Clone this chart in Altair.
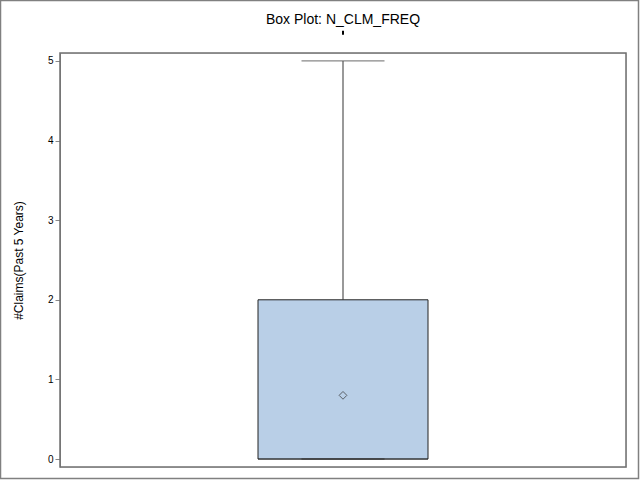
import altair as alt
import pandas as pd

# ---- data ----
variable = ["N_CLM_FREQ"]
q1 = [0.0]
median = [0.0]
q3 = [2.0]
whisker_low = [0.0]
whisker_high = [5.0]
mean = [0.8]
y_ticks = [0, 1, 2, 3, 4, 5]
title_text = "Box Plot: N_CLM_FREQ"
marker_lo = [5.33]
marker_hi = [5.38]

df = pd.DataFrame({
    "var": variable, "q1": q1, "median": median, "q3": q3,
    "lo": whisker_low, "hi": whisker_high, "mean": mean,
    "mlo": marker_lo, "mhi": marker_hi,
})

W, H = 566, 414
yscale = alt.Scale(domain=[-0.1, 5.1], nice=False, zero=False)
xenc = alt.X("var:N", axis=None, scale=alt.Scale(paddingInner=0, paddingOuter=0))
ytitle = "#Claims(Past 5 Years)"

base = alt.Chart(df)

whisker = base.mark_rule(color="#555555", strokeWidth=1.2).encode(
    x=xenc,
    y=alt.Y("q3:Q", scale=yscale,
            axis=alt.Axis(values=y_ticks, title=ytitle, grid=False, format="d",
                          titleFontWeight="normal", titleFont="Liberation Sans",
                          titleFontSize=12, titlePadding=22)),
    y2="hi:Q",
)
caps_hi = base.mark_tick(color="#555555", size=83, thickness=1.2).encode(
    x=xenc, y=alt.Y("hi:Q", scale=yscale))
box = base.mark_bar(size=170, color="#B9CFE7", stroke="#222222", strokeWidth=1).encode(
    x=xenc, y=alt.Y("q1:Q", scale=yscale), y2="q3:Q")
med = base.mark_tick(color="#222222", size=170, thickness=1).encode(
    x=xenc, y=alt.Y("median:Q", scale=yscale))
caps_lo = base.mark_tick(color="#333333", size=83, thickness=1.5).encode(
    x=xenc, y=alt.Y("lo:Q", scale=yscale))
mean_pt = base.mark_point(shape="diamond", size=60, filled=False, color="#333333",
                          strokeWidth=1).encode(
    x=xenc, y=alt.Y("mean:Q", scale=yscale))
marker = base.mark_rule(color="#000000", strokeWidth=2).encode(
    x=xenc, y=alt.Y("mlo:Q", scale=yscale), y2="mhi:Q")

title = alt.Chart(pd.DataFrame({"t": [title_text]})).mark_text(
    font="Liberation Sans", fontSize=14, color="#000000", baseline="middle", align="center"
).encode(text="t:N", x=alt.value(W / 2), y=alt.value(-33))

border = alt.Chart(pd.DataFrame({"a": [0]})).mark_rect(
    fill=None, stroke="#808080", strokeWidth=1.5
).encode(x=alt.value(-59.5), x2=alt.value(578.5), y=alt.value(-52.5), y2=alt.value(425.5))

frame = alt.Chart(pd.DataFrame({"a": [0]})).mark_rect(
    fill=None, stroke="#6f6f6f", strokeWidth=1.5
).encode(x=alt.value(0), x2=alt.value(W), y=alt.value(0), y2=alt.value(H))

chart = alt.layer(border, frame, title, whisker, caps_hi, box, med, caps_lo, mean_pt, marker).properties(
    width=W, height=H,
    autosize=alt.AutoSizeParams(type="none"),
    padding={"left": 60, "top": 53, "right": 14, "bottom": 14},
).configure_view(
    stroke=None
).configure_axis(
    labelFont="Liberation Sans", labelFontSize=11, labelColor="#000000",
    titleColor="#000000", domainColor="#333333", domainWidth=1.5,
    tickColor="#333333", tickSize=5, labelPadding=3,
).configure(background="white")

chart.save("out.html", embed_options={"renderer": "svg", "actions": False})
